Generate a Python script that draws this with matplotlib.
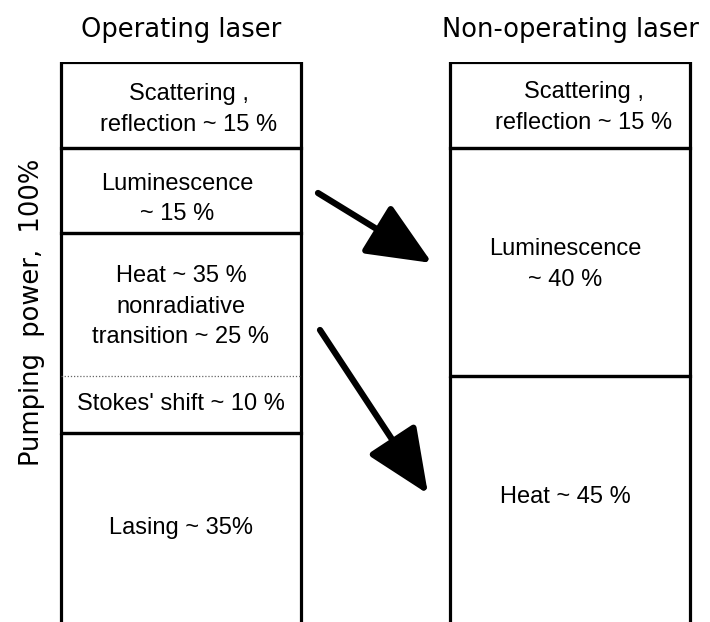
import matplotlib
matplotlib.use('Agg')
import matplotlib.pyplot as plt
import numpy as np

# data: shares of pumping power, %, top to bottom
op_labels = ["Scattering ,\nreflection ~ 15 %", "Luminescence\n~ 15 %",
             "Heat ~ 35 %\nnonradiative\ntransition ~ 25 %", "Lasing ~ 35%"]
op_values = [15, 15, 35, 35]
heat_parts = [25, 10]          # nonradiative, Stokes' shift
stokes_label = "Stokes' shift ~ 10 %"
non_labels = ["Scattering ,\nreflection ~ 15 %", "Luminescence\n~ 40 %", "Heat ~ 45 %"]
non_values = [15, 40, 45]
titles = ["Operating laser", "Non-operating laser"]
ylabel = "Pumping  power,  100%"

W, H = 710, 622
TOP = 62          # pixel row of 0 %
PX = 5.7          # pixels per %
box_x = [181, 570]
box_w = 240

fig = plt.figure(figsize=(W / 100, H / 100), dpi=100)
ax = fig.add_axes([0, 0, 1, (H - TOP) / H])
ax.set_xlim(0, W)
ax.set_ylim((H - TOP) / PX, 0)
ax.axis('off')

body = dict(family='Liberation Sans', fontsize=17, ha='center', va='center',
            multialignment='center', linespacing=1.5)
head = dict(family='DejaVu Sans', fontsize=18.5, ha='center', va='center')

# operating laser column
bottoms = np.concatenate([[0], np.cumsum(op_values)[:-1]])
ax.bar(box_x[0], op_values, bottom=bottoms, width=box_w, fill=False,
       edgecolor='k', lw=2.3)
for lab, b, v in zip(op_labels, bottoms, op_values):
    if lab.startswith("Heat"):
        ax.text(box_x[0], b + heat_parts[0] / 2 + 0.4, lab, **body)
        ax.hlines(b + heat_parts[0], box_x[0] - box_w / 2, box_x[0] + box_w / 2,
                  colors='0.4', linestyles=(0, (1, 1.5)), lw=0.9)
        ax.text(box_x[0], b + heat_parts[0] + heat_parts[1] / 2, stokes_label, **body)
    elif lab.startswith("Lum"):
        ax.text(box_x[0] - 4, b + v / 2 + 1.5, lab, **body)
    elif lab.startswith("Scat"):
        ax.text(box_x[0] + 8, b + v / 2 + 0.8, lab, **body)
    else:
        ax.text(box_x[0], b + v / 2 - 0.8, lab, **body)

# non-operating laser column
bottoms2 = np.concatenate([[0], np.cumsum(non_values)[:-1]])
ax.bar(box_x[1], non_values, bottom=bottoms2, width=box_w, fill=False,
       edgecolor='k', lw=2.3)
for lab, b, v in zip(non_labels, bottoms2, non_values):
    dx = 14 if lab.startswith("Scat") else -5
    dy = -1.2 if lab.startswith("Heat") else 0.5
    ax.text(box_x[1] + dx, b + v / 2 + dy, lab, **body)

# column titles and side label
for x, t in zip(box_x, titles):
    ax.text(x, -32 / PX, t, clip_on=False, **head)
ax.text(32, (312 - TOP) / PX, ylabel, rotation=90, clip_on=False, **head)

# arrows from the operating column to the non-operating one
arr = dict(arrowstyle='-|>,head_length=1.6,head_width=0.7', lw=4.5, color='k',
           shrinkA=0, shrinkB=0, mutation_scale=25)
ax.annotate("", xy=(432, (263 - TOP) / PX), xytext=(318, (193 - TOP) / PX), arrowprops=arr)
ax.annotate("", xy=(428, (494 - TOP) / PX), xytext=(320, (330 - TOP) / PX), arrowprops=arr)

fig.savefig('out.png', dpi=100)
